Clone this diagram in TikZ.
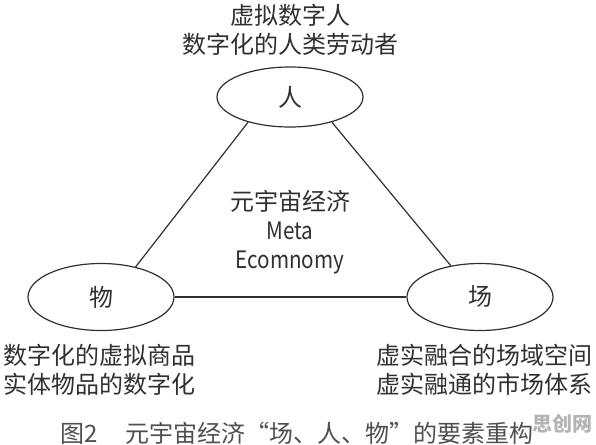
\documentclass[tikz,border=0pt]{standalone}
\usepackage{fontspec}
\setmainfont{Noto Sans CJK SC}
\usetikzlibrary{shapes.geometric}
\definecolor{ink}{HTML}{303030}
\definecolor{wm}{HTML}{B4B4B4}
\newcommand{\openq}{\makebox[24pt][r]{“}}
\newcommand{\closeq}{\makebox[24pt][l]{”}}
\newcommand{\narrowlat}[1]{{\addfontfeature{FakeStretch=0.86}#1}}
\tikzset{
  oval/.style={ellipse, draw=ink, line width=1.2pt, inner sep=0pt, minimum width=146pt, font=\fontsize{24}{29}\selectfont, text=ink},
  lbl/.style={inner sep=0pt, font=\fontsize{24}{29}\selectfont, text=ink, align=center},
  link/.style={draw=ink, line width=1.2pt}
}
\begin{document}
\begin{tikzpicture}[x=1pt, y=-1pt]
\useasboundingbox[fill=white] (0,0) rectangle (596,444);
\node[oval, minimum height=60pt] (ren) at (290,97) {人};
\node[oval, minimum height=67pt] (wu) at (101,297) {物};
\node[oval, minimum height=67pt] (chang) at (480,297) {场};
\draw[link] (ren.211.8) -- (wu.41.7);
\draw[link] (ren.-31.8) -- (chang.133.8);
\draw[link] (wu.east) -- (chang.west);
\node[lbl] (toptxt) at (290,30) {虚拟数字人\\数字化的人类劳动者};
\node[lbl] (center) at (290,232) {元宇宙经济\\\narrowlat{Meta}\\\narrowlat{Ecomnomy}};
\node[lbl, align=left, anchor=west] (lefttxt) at (3,370) {数字化的虚拟商品\\实体物品的数字化};
\node[lbl] (righttxt) at (484,370) {虚实融合的场域空间\\虚实融通的市场体系};
\node[lbl, anchor=west, text=ink!85] (caption) at (60,433) {图2\hspace{28pt}元宇宙经济\openq 场、人、物\closeq 的要素重构};
\node[inner sep=0pt, font=\fontsize{20}{24}\selectfont\bfseries, text=wm] (mark) at (562,424) {思创网};
\end{tikzpicture}
\end{document}
